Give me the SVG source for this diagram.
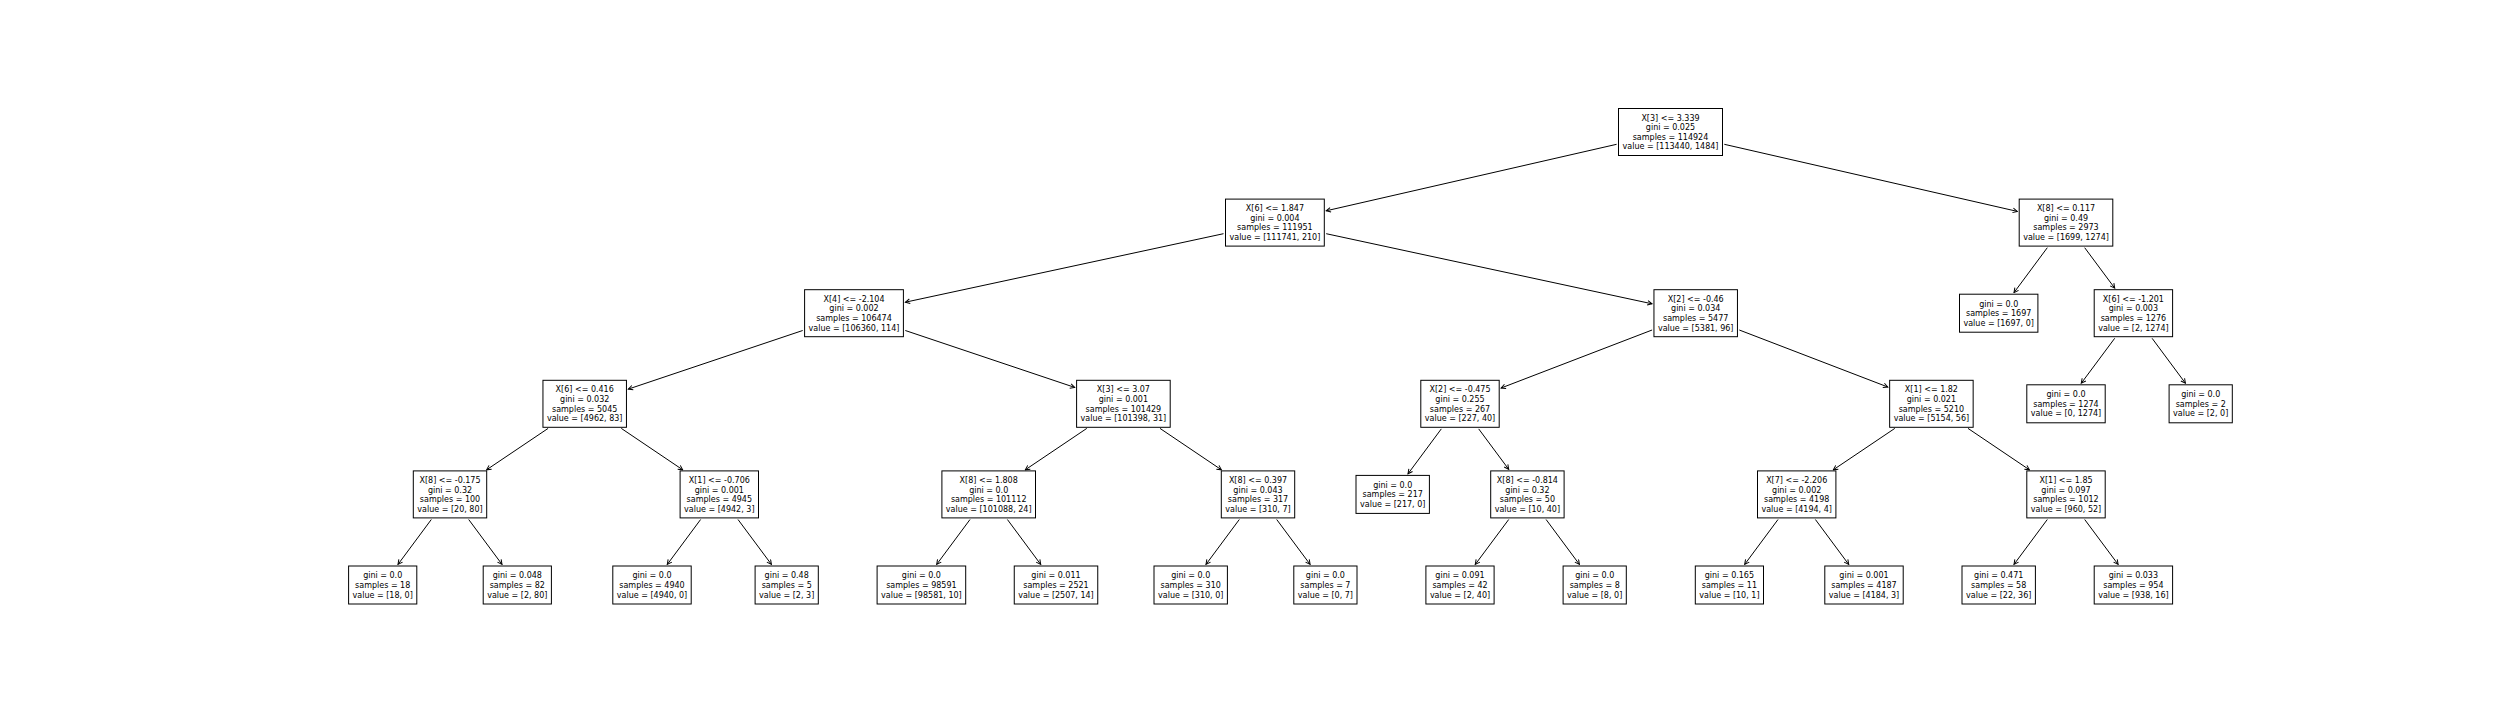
<svg xmlns="http://www.w3.org/2000/svg" width="2520" height="720" viewBox="0 0 2520 720">
<style>
.b{fill:#fff;stroke:#000;stroke-width:1}
.t{font-family:"DejaVu Sans",sans-serif;font-size:8px;text-anchor:middle;fill:#000}
.e{fill:none;stroke:#000;stroke-width:1;marker-end:url(#ah)}
</style>
<defs>
<marker id="ah" viewBox="-6 -3 7 6" refX="0" refY="0" markerWidth="7" markerHeight="6" markerUnits="userSpaceOnUse" orient="auto">
<path d="M-4.5,-2.3 L0,0 L-4.5,2.3" fill="none" stroke="#000" stroke-width="1"/>
</marker>
</defs>
<rect width="2520" height="720" fill="#fff"/>
<g id="edges">
<line class="e" x1="1616.6" y1="144.3" x2="1326.2" y2="210.8"/>
<line class="e" x1="1724.3" y1="144.3" x2="2017.3" y2="211.4"/>
<line class="e" x1="1223.5" y1="233.7" x2="905.4" y2="302.2"/>
<line class="e" x1="1326.2" y1="233.7" x2="1652.0" y2="303.8"/>
<line class="e" x1="802.7" y1="330.5" x2="628.3" y2="389.1"/>
<line class="e" x1="905.3" y1="330.5" x2="1074.7" y2="387.4"/>
<line class="e" x1="548.1" y1="428.4" x2="486.6" y2="469.8"/>
<line class="e" x1="621.3" y1="428.4" x2="682.7" y2="469.8"/>
<line class="e" x1="431.3" y1="519.5" x2="398.0" y2="564.4"/>
<line class="e" x1="468.7" y1="519.5" x2="502.0" y2="564.4"/>
<line class="e" x1="700.6" y1="519.5" x2="667.3" y2="564.4"/>
<line class="e" x1="738.0" y1="519.5" x2="771.4" y2="564.4"/>
<line class="e" x1="1086.8" y1="428.4" x2="1025.3" y2="469.8"/>
<line class="e" x1="1160.0" y1="428.4" x2="1221.4" y2="469.8"/>
<line class="e" x1="970.0" y1="519.5" x2="936.7" y2="564.4"/>
<line class="e" x1="1007.4" y1="519.5" x2="1040.7" y2="564.4"/>
<line class="e" x1="1239.3" y1="519.5" x2="1206.0" y2="564.4"/>
<line class="e" x1="1276.7" y1="519.5" x2="1310.1" y2="564.4"/>
<line class="e" x1="1652.1" y1="330.0" x2="1501.1" y2="388.0"/>
<line class="e" x1="1739.3" y1="330.0" x2="1887.8" y2="387.0"/>
<line class="e" x1="1441.3" y1="428.9" x2="1408.0" y2="473.8"/>
<line class="e" x1="1478.7" y1="428.9" x2="1508.7" y2="469.3"/>
<line class="e" x1="1508.7" y1="519.5" x2="1475.3" y2="564.4"/>
<line class="e" x1="1546.1" y1="519.5" x2="1579.4" y2="564.4"/>
<line class="e" x1="1894.8" y1="428.4" x2="1833.3" y2="469.8"/>
<line class="e" x1="1968.0" y1="428.4" x2="2029.4" y2="469.8"/>
<line class="e" x1="1778.0" y1="519.5" x2="1744.7" y2="564.4"/>
<line class="e" x1="1815.4" y1="519.5" x2="1848.7" y2="564.4"/>
<line class="e" x1="2047.3" y1="519.5" x2="2014.0" y2="564.4"/>
<line class="e" x1="2084.7" y1="519.5" x2="2118.1" y2="564.4"/>
<line class="e" x1="2047.3" y1="247.7" x2="2014.0" y2="292.6"/>
<line class="e" x1="2084.7" y1="247.7" x2="2114.7" y2="288.1"/>
<line class="e" x1="2114.7" y1="338.3" x2="2081.3" y2="383.2"/>
<line class="e" x1="2152.1" y1="338.3" x2="2185.4" y2="383.2"/>
</g>
<g id="n0"><rect class="b" x="1618.5" y="108.5" width="104" height="47"/><text class="t"><tspan x="1670.5" y="120.5">X[3] &lt;= 3.339</tspan><tspan x="1670.5" y="130.1">gini = 0.025</tspan><tspan x="1670.5" y="139.7">samples = 114924</tspan><tspan x="1670.5" y="149.3">value = [113440, 1484]</tspan></text></g>
<g id="n1"><rect class="b" x="1225.5" y="199.1" width="98.8" height="47"/><text class="t"><tspan x="1274.9" y="211.1">X[6] &lt;= 1.847</tspan><tspan x="1274.9" y="220.7">gini = 0.004</tspan><tspan x="1274.9" y="230.3">samples = 111951</tspan><tspan x="1274.9" y="239.9">value = [111741, 210]</tspan></text></g>
<g id="n30"><rect class="b" x="2019.2" y="199.1" width="93.6" height="47"/><text class="t"><tspan x="2066" y="211.1">X[8] &lt;= 0.117</tspan><tspan x="2066" y="220.7">gini = 0.49</tspan><tspan x="2066" y="230.3">samples = 2973</tspan><tspan x="2066" y="239.9">value = [1699, 1274]</tspan></text></g>
<g id="n2"><rect class="b" x="804.6" y="289.7" width="98.8" height="47"/><text class="t"><tspan x="854" y="301.7">X[4] &lt;= -2.104</tspan><tspan x="854" y="311.3">gini = 0.002</tspan><tspan x="854" y="320.9">samples = 106474</tspan><tspan x="854" y="330.5">value = [106360, 114]</tspan></text></g>
<g id="n17"><rect class="b" x="1653.95" y="289.7" width="83.5" height="47"/><text class="t"><tspan x="1695.7" y="301.7">X[2] &lt;= -0.46</tspan><tspan x="1695.7" y="311.3">gini = 0.034</tspan><tspan x="1695.7" y="320.9">samples = 5477</tspan><tspan x="1695.7" y="330.5">value = [5381, 96]</tspan></text></g>
<g id="n31"><rect class="b" x="1959.5" y="294.2" width="78.4" height="38"/><text class="t"><tspan x="1998.7" y="306.5">gini = 0.0</tspan><tspan x="1998.7" y="316.1">samples = 1697</tspan><tspan x="1998.7" y="325.7">value = [1697, 0]</tspan></text></g>
<g id="n32"><rect class="b" x="2094.2" y="289.7" width="78.4" height="47"/><text class="t"><tspan x="2133.4" y="301.7">X[6] &lt;= -1.201</tspan><tspan x="2133.4" y="311.3">gini = 0.003</tspan><tspan x="2133.4" y="320.9">samples = 1276</tspan><tspan x="2133.4" y="330.5">value = [2, 1274]</tspan></text></g>
<g id="n3"><rect class="b" x="542.95" y="380.3" width="83.5" height="47"/><text class="t"><tspan x="584.7" y="392.3">X[6] &lt;= 0.416</tspan><tspan x="584.7" y="401.9">gini = 0.032</tspan><tspan x="584.7" y="411.5">samples = 5045</tspan><tspan x="584.7" y="421.1">value = [4962, 83]</tspan></text></g>
<g id="n10"><rect class="b" x="1076.6" y="380.3" width="93.6" height="47"/><text class="t"><tspan x="1123.4" y="392.3">X[3] &lt;= 3.07</tspan><tspan x="1123.4" y="401.9">gini = 0.001</tspan><tspan x="1123.4" y="411.5">samples = 101429</tspan><tspan x="1123.4" y="421.1">value = [101398, 31]</tspan></text></g>
<g id="n18"><rect class="b" x="1420.8" y="380.3" width="78.4" height="47"/><text class="t"><tspan x="1460" y="392.3">X[2] &lt;= -0.475</tspan><tspan x="1460" y="401.9">gini = 0.255</tspan><tspan x="1460" y="411.5">samples = 267</tspan><tspan x="1460" y="421.1">value = [227, 40]</tspan></text></g>
<g id="n23"><rect class="b" x="1889.65" y="380.3" width="83.5" height="47"/><text class="t"><tspan x="1931.4" y="392.3">X[1] &lt;= 1.82</tspan><tspan x="1931.4" y="401.9">gini = 0.021</tspan><tspan x="1931.4" y="411.5">samples = 5210</tspan><tspan x="1931.4" y="421.1">value = [5154, 56]</tspan></text></g>
<g id="n33"><rect class="b" x="2026.8" y="384.8" width="78.4" height="38"/><text class="t"><tspan x="2066" y="397.1">gini = 0.0</tspan><tspan x="2066" y="406.7">samples = 1274</tspan><tspan x="2066" y="416.3">value = [0, 1274]</tspan></text></g>
<g id="n34"><rect class="b" x="2169.1" y="384.8" width="63.2" height="38"/><text class="t"><tspan x="2200.7" y="397.1">gini = 0.0</tspan><tspan x="2200.7" y="406.7">samples = 2</tspan><tspan x="2200.7" y="416.3">value = [2, 0]</tspan></text></g>
<g id="n4"><rect class="b" x="413.3" y="470.9" width="73.4" height="47"/><text class="t"><tspan x="450" y="482.9">X[8] &lt;= -0.175</tspan><tspan x="450" y="492.5">gini = 0.32</tspan><tspan x="450" y="502.1">samples = 100</tspan><tspan x="450" y="511.7">value = [20, 80]</tspan></text></g>
<g id="n7"><rect class="b" x="680.1" y="470.9" width="78.4" height="47"/><text class="t"><tspan x="719.3" y="482.9">X[1] &lt;= -0.706</tspan><tspan x="719.3" y="492.5">gini = 0.001</tspan><tspan x="719.3" y="502.1">samples = 4945</tspan><tspan x="719.3" y="511.7">value = [4942, 3]</tspan></text></g>
<g id="n11"><rect class="b" x="941.9" y="470.9" width="93.6" height="47"/><text class="t"><tspan x="988.7" y="482.9">X[8] &lt;= 1.808</tspan><tspan x="988.7" y="492.5">gini = 0.0</tspan><tspan x="988.7" y="502.1">samples = 101112</tspan><tspan x="988.7" y="511.7">value = [101088, 24]</tspan></text></g>
<g id="n14"><rect class="b" x="1221.3" y="470.9" width="73.4" height="47"/><text class="t"><tspan x="1258" y="482.9">X[8] &lt;= 0.397</tspan><tspan x="1258" y="492.5">gini = 0.043</tspan><tspan x="1258" y="502.1">samples = 317</tspan><tspan x="1258" y="511.7">value = [310, 7]</tspan></text></g>
<g id="n19"><rect class="b" x="1356" y="475.4" width="73.4" height="38"/><text class="t"><tspan x="1392.7" y="487.7">gini = 0.0</tspan><tspan x="1392.7" y="497.3">samples = 217</tspan><tspan x="1392.7" y="506.9">value = [217, 0]</tspan></text></g>
<g id="n20"><rect class="b" x="1490.7" y="470.9" width="73.4" height="47"/><text class="t"><tspan x="1527.4" y="482.9">X[8] &lt;= -0.814</tspan><tspan x="1527.4" y="492.5">gini = 0.32</tspan><tspan x="1527.4" y="502.1">samples = 50</tspan><tspan x="1527.4" y="511.7">value = [10, 40]</tspan></text></g>
<g id="n24"><rect class="b" x="1757.5" y="470.9" width="78.4" height="47"/><text class="t"><tspan x="1796.7" y="482.9">X[7] &lt;= -2.206</tspan><tspan x="1796.7" y="492.5">gini = 0.002</tspan><tspan x="1796.7" y="502.1">samples = 4198</tspan><tspan x="1796.7" y="511.7">value = [4194, 4]</tspan></text></g>
<g id="n27"><rect class="b" x="2026.8" y="470.9" width="78.4" height="47"/><text class="t"><tspan x="2066" y="482.9">X[1] &lt;= 1.85</tspan><tspan x="2066" y="492.5">gini = 0.097</tspan><tspan x="2066" y="502.1">samples = 1012</tspan><tspan x="2066" y="511.7">value = [960, 52]</tspan></text></g>
<g id="n5"><rect class="b" x="348.6" y="566" width="68.2" height="38"/><text class="t"><tspan x="382.7" y="578.3">gini = 0.0</tspan><tspan x="382.7" y="587.9">samples = 18</tspan><tspan x="382.7" y="597.5">value = [18, 0]</tspan></text></g>
<g id="n6"><rect class="b" x="483.2" y="566" width="68.2" height="38"/><text class="t"><tspan x="517.3" y="578.3">gini = 0.048</tspan><tspan x="517.3" y="587.9">samples = 82</tspan><tspan x="517.3" y="597.5">value = [2, 80]</tspan></text></g>
<g id="n8"><rect class="b" x="612.8" y="566" width="78.4" height="38"/><text class="t"><tspan x="652" y="578.3">gini = 0.0</tspan><tspan x="652" y="587.9">samples = 4940</tspan><tspan x="652" y="597.5">value = [4940, 0]</tspan></text></g>
<g id="n9"><rect class="b" x="755.1" y="566" width="63.2" height="38"/><text class="t"><tspan x="786.7" y="578.3">gini = 0.48</tspan><tspan x="786.7" y="587.9">samples = 5</tspan><tspan x="786.7" y="597.5">value = [2, 3]</tspan></text></g>
<g id="n12"><rect class="b" x="877.1" y="566" width="88.6" height="38"/><text class="t"><tspan x="921.4" y="578.3">gini = 0.0</tspan><tspan x="921.4" y="587.9">samples = 98591</tspan><tspan x="921.4" y="597.5">value = [98581, 10]</tspan></text></g>
<g id="n13"><rect class="b" x="1014.25" y="566" width="83.5" height="38"/><text class="t"><tspan x="1056" y="578.3">gini = 0.011</tspan><tspan x="1056" y="587.9">samples = 2521</tspan><tspan x="1056" y="597.5">value = [2507, 14]</tspan></text></g>
<g id="n15"><rect class="b" x="1154" y="566" width="73.4" height="38"/><text class="t"><tspan x="1190.7" y="578.3">gini = 0.0</tspan><tspan x="1190.7" y="587.9">samples = 310</tspan><tspan x="1190.7" y="597.5">value = [310, 0]</tspan></text></g>
<g id="n16"><rect class="b" x="1293.8" y="566" width="63.2" height="38"/><text class="t"><tspan x="1325.4" y="578.3">gini = 0.0</tspan><tspan x="1325.4" y="587.9">samples = 7</tspan><tspan x="1325.4" y="597.5">value = [0, 7]</tspan></text></g>
<g id="n21"><rect class="b" x="1425.9" y="566" width="68.2" height="38"/><text class="t"><tspan x="1460" y="578.3">gini = 0.091</tspan><tspan x="1460" y="587.9">samples = 42</tspan><tspan x="1460" y="597.5">value = [2, 40]</tspan></text></g>
<g id="n22"><rect class="b" x="1563.1" y="566" width="63.2" height="38"/><text class="t"><tspan x="1594.7" y="578.3">gini = 0.0</tspan><tspan x="1594.7" y="587.9">samples = 8</tspan><tspan x="1594.7" y="597.5">value = [8, 0]</tspan></text></g>
<g id="n25"><rect class="b" x="1695.3" y="566" width="68.2" height="38"/><text class="t"><tspan x="1729.4" y="578.3">gini = 0.165</tspan><tspan x="1729.4" y="587.9">samples = 11</tspan><tspan x="1729.4" y="597.5">value = [10, 1]</tspan></text></g>
<g id="n26"><rect class="b" x="1824.8" y="566" width="78.4" height="38"/><text class="t"><tspan x="1864" y="578.3">gini = 0.001</tspan><tspan x="1864" y="587.9">samples = 4187</tspan><tspan x="1864" y="597.5">value = [4184, 3]</tspan></text></g>
<g id="n28"><rect class="b" x="1962" y="566" width="73.4" height="38"/><text class="t"><tspan x="1998.7" y="578.3">gini = 0.471</tspan><tspan x="1998.7" y="587.9">samples = 58</tspan><tspan x="1998.7" y="597.5">value = [22, 36]</tspan></text></g>
<g id="n29"><rect class="b" x="2094.2" y="566" width="78.4" height="38"/><text class="t"><tspan x="2133.4" y="578.3">gini = 0.033</tspan><tspan x="2133.4" y="587.9">samples = 954</tspan><tspan x="2133.4" y="597.5">value = [938, 16]</tspan></text></g>
</svg>
